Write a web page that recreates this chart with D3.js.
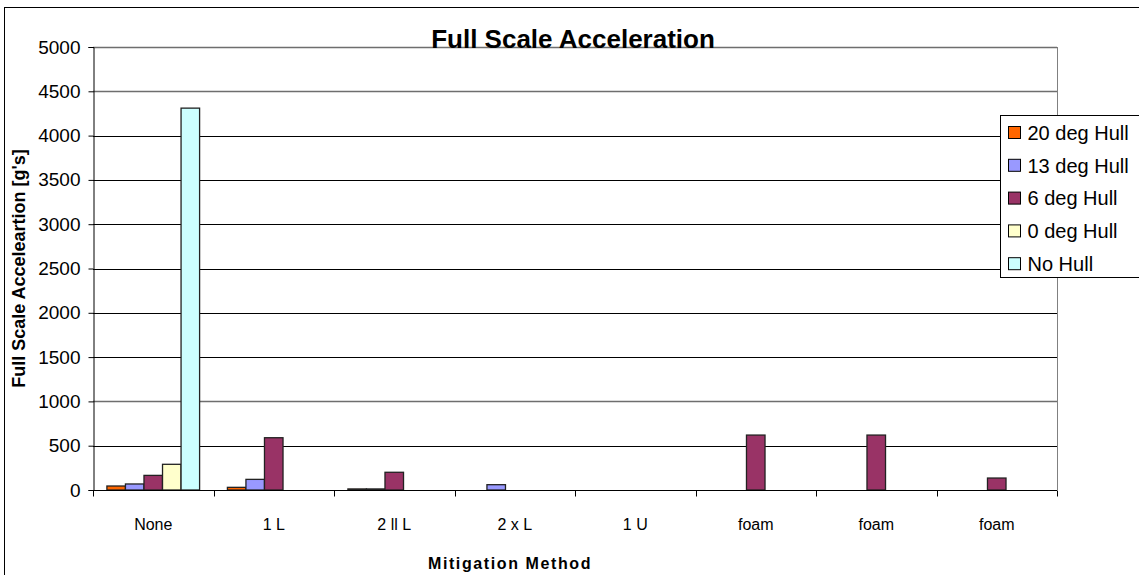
<!DOCTYPE html>
<html>
<head>
<meta charset="utf-8">
<script src="https://cdn.jsdelivr.net/npm/d3@7"></script>
<style>
html,body{margin:0;padding:0;background:#fff;}
svg{display:block;font-family:Arial,"Liberation Sans",sans-serif;}
</style>
</head>
<body>
<svg id="chart" width="1139" height="575"></svg>
<script>
const categories = ["None", "1 L", "2 ll L", "2 x L", "1 U", "foam", "foam", "foam"];
const seriesNames = ["20 deg Hull", "13 deg Hull", "6 deg Hull", "0 deg Hull", "No Hull"];
const seriesColors = ["#FF6600", "#9999FF", "#993366", "#FFFFCC", "#CCFFFF"];
const hull20 = [45, 30, 12, 0, 0, 0, 0, 0];
const hull13 = [68, 120, 12, 60, 0, 0, 0, 0];
const hull6 = [165, 590, 200, 0, 0, 620, 620, 135];
const hull0 = [290, 0, 0, 0, 0, 0, 0, 0];
const noHull = [4310, 0, 0, 0, 0, 0, 0, 0];
const yTicks = [0, 500, 1000, 1500, 2000, 2500, 3000, 3500, 4000, 4500, 5000];

const seriesValues = [hull20, hull13, hull6, hull0, noHull];

const svg = d3.select("#chart");
const pLeft = 93, pRight = 1057, pTop = 47, pBottom = 490;

// outer chart border
svg.append("rect").attr("x", 4.5).attr("y", 7.5).attr("width", 1200).attr("height", 700)
  .attr("fill", "#fff").attr("stroke", "#000").attr("stroke-width", 1);

const x = d3.scaleBand().domain(d3.range(categories.length)).range([pLeft, pRight]).padding(0);
const xs = d3.scaleBand().domain(seriesNames).range([0, x.bandwidth()]).paddingInner(0).paddingOuter(0.75);
const y = d3.scaleLinear().domain([0, 5000]).range([pBottom, pTop]);

// gridlines
svg.append("g").selectAll("line").data(yTicks.filter(d => d > 0)).join("line")
  .attr("x1", pLeft).attr("x2", pRight)
  .attr("y1", d => Math.round(y(d)) + 0.5).attr("y2", d => Math.round(y(d)) + 0.5)
  .attr("stroke", d => (d === 5000 || d === 4500 || d === 1000) ? "#6e6e6e" : "#000")
  .attr("stroke-width", d => (d === 5000 || d === 4500 || d === 1000) ? 1.5 : 1);

// right plot border
svg.append("line").attr("x1", pRight + 0.5).attr("x2", pRight + 0.5).attr("y1", pTop).attr("y2", pBottom)
  .attr("stroke", "#808080").attr("stroke-width", 1);

// bars
const data = [];
categories.forEach((c, i) => {
  seriesNames.forEach((s, j) => {
    const v = seriesValues[j][i];
    if (v > 0) data.push({i, s, j, v});
  });
});
svg.append("g").selectAll("rect").data(data).join("rect")
  .attr("x", d => x(d.i) + xs(d.s))
  .attr("y", d => y(d.v))
  .attr("width", xs.bandwidth())
  .attr("height", d => pBottom - y(d.v))
  .attr("fill", d => seriesColors[d.j])
  .attr("stroke", "#222").attr("stroke-width", 1.3);

// y axis
const yAxis = d3.axisLeft(y).tickValues(yTicks).tickSize(5).tickPadding(8).tickFormat(d3.format("d"));
const gy = svg.append("g").attr("transform", `translate(${pLeft + 0.5},0)`).call(yAxis);
gy.select(".domain").attr("stroke", "#000");
gy.selectAll("text").attr("font-size", 19).attr("fill", "#000").attr("font-family", "Arial, 'Liberation Sans', sans-serif");

// x axis
const gx = svg.append("g").attr("transform", `translate(0,${pBottom + 0.5})`);
gx.append("line").attr("x1", pLeft).attr("x2", pRight).attr("stroke", "#000");
const bounds = d3.range(categories.length + 1).map(i => i < categories.length ? x(i) : pRight);
gx.selectAll(".tk").data(bounds).join("line").attr("class", "tk")
  .attr("x1", d => Math.round(d) + 0.5).attr("x2", d => Math.round(d) + 0.5)
  .attr("y1", 0).attr("y2", 6).attr("stroke", "#000");
gx.selectAll(".lb").data(categories).join("text").attr("class", "lb")
  .attr("x", (d, i) => x(i) + x.bandwidth() / 2)
  .attr("y", 39)
  .attr("text-anchor", "middle")
  .attr("font-size", 16)
  .attr("fill", "#000")
  .text(d => d);

// title
svg.append("text").attr("x", 573).attr("y", 48).attr("text-anchor", "middle")
  .attr("font-size", 26).attr("font-weight", "bold").attr("fill", "#000")
  .text("Full Scale Acceleration");

// y axis title
svg.append("text").attr("transform", `translate(25,${(pTop + pBottom) / 2}) rotate(-90)`)
  .attr("text-anchor", "middle").attr("font-size", 18).attr("font-weight", "bold").attr("fill", "#000")
  .text("Full Scale Acceleartion [g's]");

// x axis title
svg.append("text").attr("x", 510).attr("y", 569).attr("text-anchor", "middle")
  .attr("font-size", 16).attr("font-weight", "bold").attr("letter-spacing", 1.6).attr("fill", "#000")
  .text("Mitigation Method");

// legend
const lg = svg.append("g").attr("transform", "translate(1000.5,115.5)");
lg.append("rect").attr("x", 0).attr("y", 0).attr("width", 200).attr("height", 162)
  .attr("fill", "#fff").attr("stroke", "#000");
const items = lg.selectAll(".it").data(seriesNames).join("g").attr("class", "it")
  .attr("transform", (d, i) => `translate(0,${17 + i * 32.8})`);
items.append("rect").attr("x", 8).attr("y", -6).attr("width", 12).attr("height", 12)
  .attr("fill", (d, i) => seriesColors[i]).attr("stroke", "#000");
items.append("text").attr("x", 27).attr("y", 0).attr("dy", "0.36em")
  .attr("font-size", 20).attr("fill", "#000").text(d => d);
</script>
</body>
</html>
